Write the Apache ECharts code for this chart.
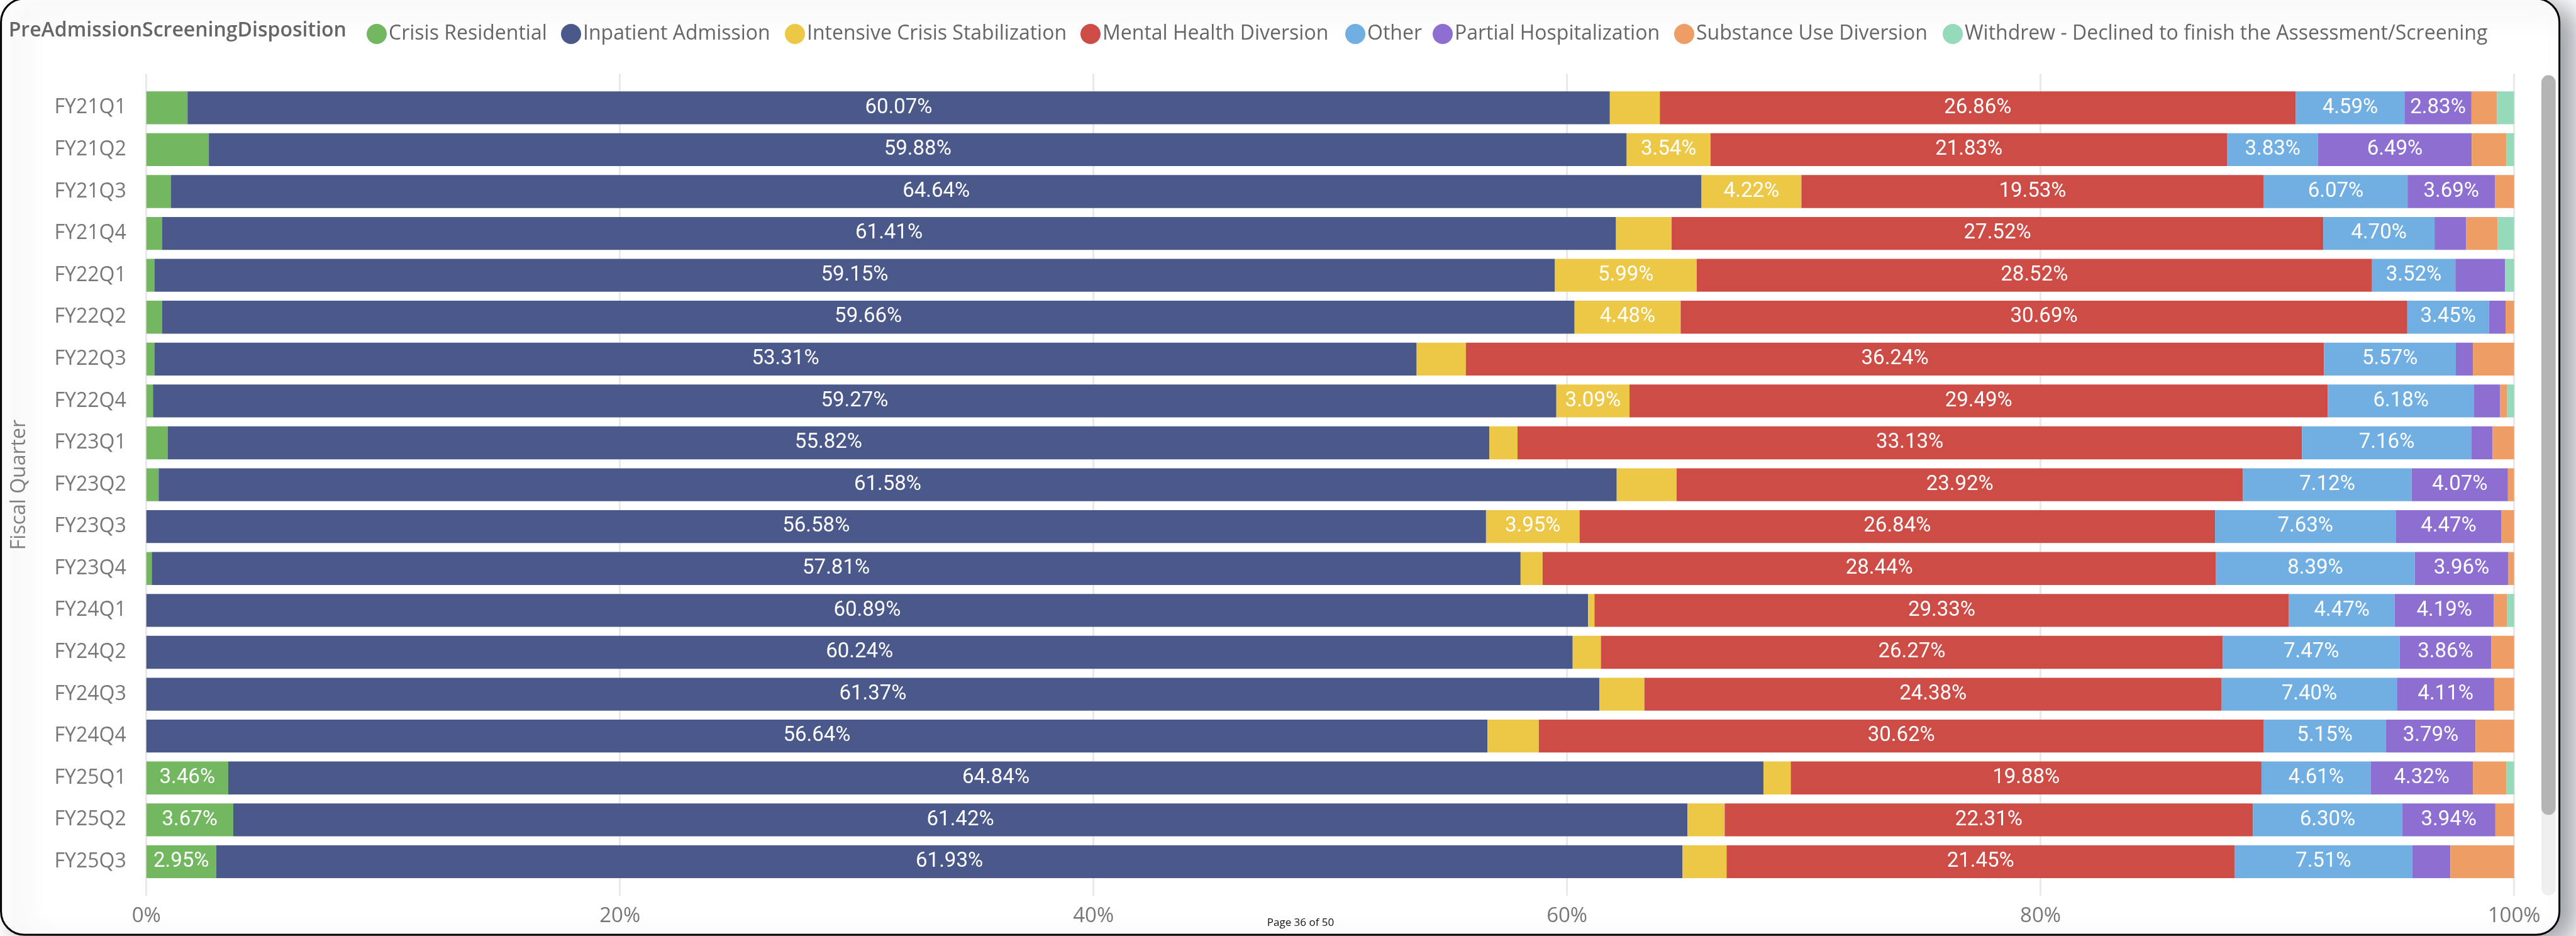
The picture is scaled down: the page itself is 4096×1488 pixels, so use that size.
<!DOCTYPE html>
<html>
<head>
<meta charset="utf-8">
<title>PreAdmission Screening Disposition by Fiscal Quarter</title>
<script src="https://cdn.jsdelivr.net/npm/echarts@6/dist/echarts.min.js"></script>
<style>
  html, body { margin: 0; padding: 0; background: #ffffff; }
  #chart { width: 4096px; height: 1488px; }
</style>
</head>
<body>
<div id="chart"></div>
<script>
// Fiscal quarters, top to bottom
const categories = ['FY21Q1', 'FY21Q2', 'FY21Q3', 'FY21Q4', 'FY22Q1', 'FY22Q2', 'FY22Q3', 'FY22Q4',
  'FY23Q1', 'FY23Q2', 'FY23Q3', 'FY23Q4', 'FY24Q1', 'FY24Q2', 'FY24Q3', 'FY24Q4',
  'FY25Q1', 'FY25Q2', 'FY25Q3'];

// Share of screenings (%) per disposition, one value per quarter
const crisisResidential = [1.74, 2.64, 1.04, 0.66, 0.34, 0.66, 0.34, 0.28, 0.90, 0.52, 0, 0.23, 0, 0, 0, 0, 3.46, 3.67, 2.95];
const inpatientAdmission = [60.07, 59.88, 64.64, 61.41, 59.15, 59.66, 53.31, 59.27, 55.82, 61.58, 56.58, 57.81, 60.89, 60.24, 61.37, 56.64, 64.84, 61.42, 61.93];
const intensiveCrisisStabilization = [2.11, 3.54, 4.22, 2.35, 5.99, 4.48, 2.08, 3.09, 1.19, 2.53, 3.95, 0.93, 0.27, 1.19, 1.90, 2.17, 1.15, 1.57, 1.86];
const mentalHealthDiversion = [26.86, 21.83, 19.53, 27.52, 28.52, 30.69, 36.24, 29.49, 33.13, 23.92, 26.84, 28.44, 29.33, 26.27, 24.38, 30.62, 19.88, 22.31, 21.45];
const otherDisposition = [4.59, 3.83, 6.07, 4.70, 3.52, 3.45, 5.57, 6.18, 7.16, 7.12, 7.63, 8.39, 4.47, 7.47, 7.40, 5.15, 4.61, 6.30, 7.51];
const partialHospitalization = [2.83, 6.49, 3.69, 1.33, 2.10, 0.70, 0.72, 1.10, 0.89, 4.07, 4.47, 3.96, 4.19, 3.86, 4.11, 3.79, 4.32, 3.94, 1.61];
const substanceUseDiversion = [1.08, 1.47, 0.81, 1.34, 0, 0.36, 1.74, 0.30, 0.91, 0.26, 0.53, 0.24, 0.56, 0.97, 0.84, 1.63, 1.42, 0.79, 2.69];
const withdrewDeclined = [0.72, 0.32, 0, 0.69, 0.38, 0, 0, 0.29, 0, 0, 0, 0, 0.29, 0, 0, 0, 0.32, 0, 0];

const seriesNames = ['Crisis Residential', 'Inpatient Admission', 'Intensive Crisis Stabilization',
  'Mental Health Diversion', 'Other', 'Partial Hospitalization', 'Substance Use Diversion',
  'Withdrew - Declined to finish the Assessment/Screening'];
const seriesValues = [crisisResidential, inpatientAdmission, intensiveCrisisStabilization,
  mentalHealthDiversion, otherDisposition, partialHospitalization, substanceUseDiversion, withdrewDeclined];

// Percent axis ticks
const percentTicks = [0, 20, 40, 60, 80, 100];

const legendTitle = 'PreAdmissionScreeningDisposition';
const axisTitle = 'Fiscal Quarter';
const pageText = 'Page 36 of 50';

// ---- styling ----
const palette = ['#73B761', '#4A588A', '#ECC846', '#CD4C46', '#71AFE2', '#8D6FD1', '#EE9E64', '#95DABB'];
const uiFont = "'Open Sans', 'Noto Sans', sans-serif";
const labelFont = "Roboto, 'Noto Sans', sans-serif";
const legendLefts = [583, 892, 1248, 1718, 2139, 2278, 2662, 3089];
const plotLeft = 232.7, plotRight = 98.4;
const minLabelShare = 2.8; // segments narrower than this carry no label

const chart = echarts.init(document.getElementById('chart'), null, { renderer: 'canvas' });

const series = seriesNames.map((name, i) => ({
  name: name,
  type: 'bar',
  stack: 'share',
  xAxisIndex: 0,
  yAxisIndex: 0,
  barCategoryGap: '21.4%',
  data: seriesValues[i],
  itemStyle: { color: palette[i] },
  label: {
    show: true,
    position: 'inside',
    color: '#ffffff',
    fontFamily: labelFont,
    fontSize: 33,
    formatter: p => (p.value >= minLabelShare ? p.value.toFixed(2) + '%' : '')
  },
  emphasis: { disabled: true }
}));

const legends = seriesNames.map((name, i) => ({
  data: [name],
  left: legendLefts[i],
  top: 38,
  padding: 0,
  icon: 'circle',
  itemWidth: 32,
  itemHeight: 32,
  selectedMode: false,
  textStyle: { color: '#666666', fontFamily: uiFont, fontSize: 32, padding: [0, 0, 0, -2] }
}));

const option = {
  animation: false,
  backgroundColor: 'transparent',
  color: palette,
  legend: legends,
  grid: [
    { left: plotLeft, right: plotRight, top: 138.0, bottom: 84.8, containLabel: false },
    { left: plotLeft, right: plotRight, top: 117.2, bottom: 64.3, containLabel: false }
  ],
  xAxis: [
    {
      type: 'value', gridIndex: 0,
      min: percentTicks[0], max: percentTicks[percentTicks.length - 1], interval: percentTicks[1] - percentTicks[0],
      show: false
    },
    {
      type: 'value', gridIndex: 1,
      min: percentTicks[0], max: percentTicks[percentTicks.length - 1], interval: percentTicks[1] - percentTicks[0],
      axisLine: { show: false },
      axisTick: { show: false },
      splitLine: { show: true, lineStyle: { color: '#E9E9E9', width: 3 } },
      axisLabel: {
        show: true,
        margin: 16,
        color: '#777777',
        fontFamily: uiFont,
        fontSize: 33,
        formatter: v => v + '%'
      }
    }
  ],
  yAxis: [
    {
      type: 'category', gridIndex: 0,
      data: categories,
      inverse: true,
      axisLine: { show: false },
      axisTick: { show: false },
      splitLine: { show: false },
      axisLabel: { margin: 32, color: '#777777', fontFamily: uiFont, fontSize: 32 },
      name: axisTitle,
      nameLocation: 'middle',
      nameRotate: 90,
      nameGap: 186,
      nameTextStyle: { color: '#808080', fontFamily: uiFont, fontSize: 32 }
    },
    { type: 'value', gridIndex: 1, show: false, min: 0, max: 1 }
  ],
  graphic: [
    {
      type: 'rect', z: -20, silent: true,
      shape: { x: 1.6, y: -2, width: 4068, height: 1488, r: 37 },
      style: {
        fill: '#ffffff', stroke: '#000000', lineWidth: 3,
        shadowBlur: 40, shadowColor: 'rgba(40,44,60,0.45)', shadowOffsetX: 24, shadowOffsetY: 12
      }
    },
    {
      type: 'rect', z: -10, silent: true,
      shape: { x: 4041, y: 119.6, width: 22.6, height: 1304, r: 11.3 },
      style: { fill: '#EFEFEF' }
    },
    {
      type: 'rect', z: -9, silent: true,
      shape: { x: 4041, y: 119.6, width: 22.6, height: 1176, r: 11.3 },
      style: { fill: '#B4B4B4' }
    },
    {
      type: 'text', z: 10, silent: true,
      left: 13.7, top: 33,
      style: { text: legendTitle, fill: '#666666', font: "600 32px 'Open Sans', sans-serif" }
    },
    {
      type: 'text', z: 10, silent: true,
      style: {
        text: pageText, x: 2068, y: 1467, align: 'center', verticalAlign: 'middle',
        fill: '#111111', font: "17px 'Open Sans', sans-serif"
      }
    }
  ],
  series: series
};

chart.setOption(option);
</script>
</body>
</html>
